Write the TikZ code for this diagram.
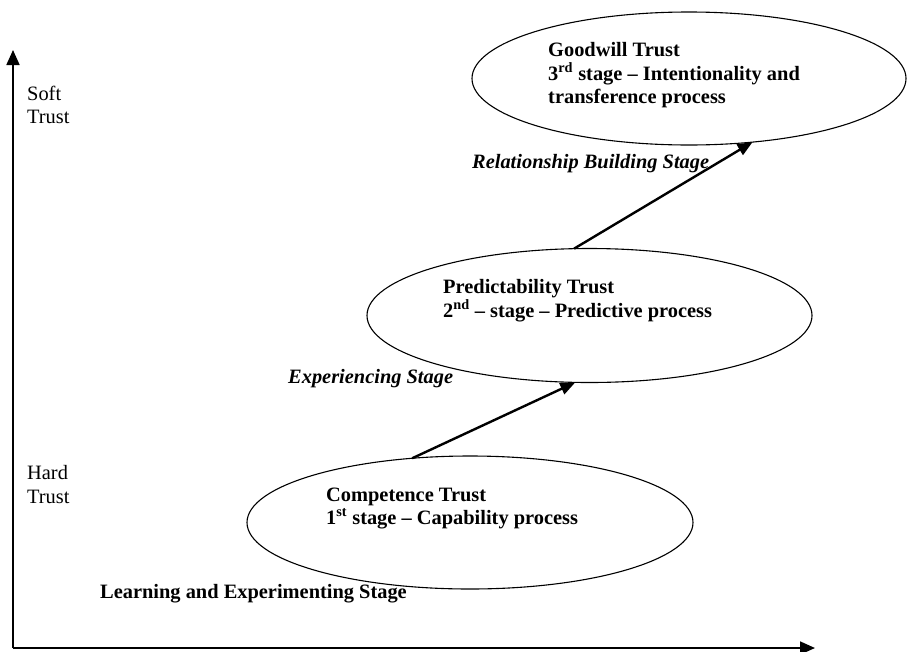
\documentclass[tikz,border=0pt]{standalone}
\usepackage{fontspec}
\setmainfont{Liberation Serif}
\usetikzlibrary{arrows.meta,shapes.geometric}
\begin{document}
\begin{tikzpicture}[x=1pt,y=-1pt,
  stagebox/.style={ellipse,draw,line width=1.1pt,inner sep=0pt,outer sep=0pt},
  txt/.style={anchor=base west,inner sep=0pt,font=\fontsize{20.4}{24}\selectfont},
  bld/.style={txt,font=\fontsize{20.4}{24}\selectfont\bfseries},
  bit/.style={txt,font=\fontsize{20.4}{24}\selectfont\bfseries\itshape},
  axisline/.style={line width=1.8pt,-{Triangle[length=15pt,width=13pt]}},
  stagearrow/.style={line width=2.4pt,-{Triangle[length=15pt,width=12pt]}}]
\useasboundingbox (0,0) rectangle (907,651);

% axes
\coordinate (o) at (13,648);
\coordinate (ytip) at (13,50);
\coordinate (xtip) at (815,648);
\draw[axisline] (o) -- (ytip);
\draw[axisline] (o) -- (xtip);

% trust stages
\node[stagebox,minimum width=446pt,minimum height=133pt] (comp) at (470,522.5) {};
\node[stagebox,minimum width=445pt,minimum height=134pt] (pred) at (589.5,315.5) {};
\node[stagebox,minimum width=434pt,minimum height=133pt] (good) at (689,78.5) {};

% axis labels
\node[txt] (soft1) at (27,100) {Soft};
\node[txt] (soft2) at (27,123) {Trust};
\node[txt] (hard1) at (27,479) {Hard};
\node[txt] (hard2) at (27,503) {Trust};

% stage texts
\node[bld] (gw1) at (548,56) {Goodwill Trust};
\node[bld] (gw2) at (548,80) {3\textsuperscript{rd} stage – Intentionality and};
\node[bld] (gw3) at (548,103) {transference process};
\node[bit] (rel) at (472,168) {Relationship Building Stage};
\node[bld] (pr1) at (443,293) {Predictability Trust};
\node[bld] (pr2) at (443,317) {2\textsuperscript{nd} – stage – Predictive process};
\node[bit] (exp) at (288,383) {Experiencing Stage};
\node[bld] (ct1) at (326,501) {Competence Trust};
\node[bld] (ct2) at (326,524) {1\textsuperscript{st} stage – Capability process};
\node[bld] (learn) at (100,598) {Learning and Experimenting Stage};

% progression arrows
\draw[stagearrow] (comp.132) -- (pred.258);
\draw[stagearrow] (pred.103) -- (good.315);
\end{tikzpicture}
\end{document}
